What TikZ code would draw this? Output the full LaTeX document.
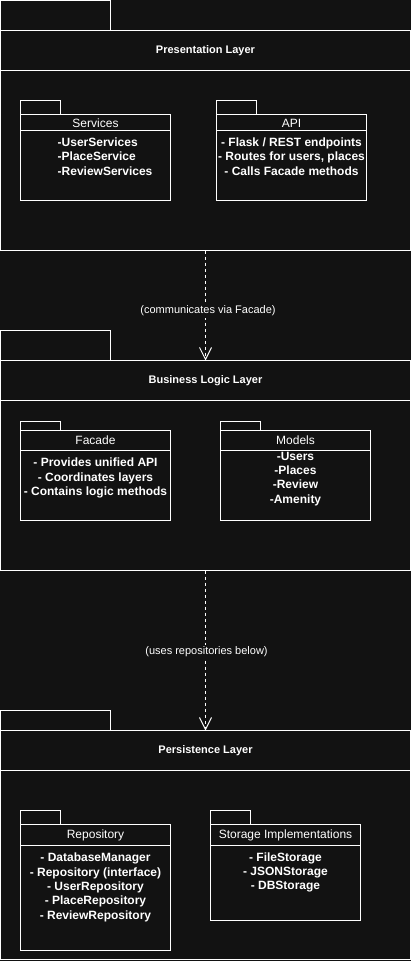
\documentclass[tikz,border=0pt]{standalone}
\usepackage{fontspec}
\setmainfont{Liberation Sans}
\usetikzlibrary{arrows.meta}
\definecolor{bg}{HTML}{121212}
\begin{document}
\begin{tikzpicture}[x=1pt,y=-1pt,
  frame/.style={draw=white, line width=1pt, fill=bg, inner sep=0pt, outer sep=0pt, anchor=north west},
  sepline/.style={draw=white, line width=1pt},
  ltitle/.style={text=white, inner sep=0pt, font=\fontsize{11}{13}\selectfont\bfseries},
  ptitle/.style={text=white, inner sep=0pt, font=\fontsize{12}{14}\selectfont},
  items/.style={text=white, inner sep=0pt, font=\fontsize{12}{14.35}\selectfont\bfseries, align=center},
  elabel/.style={text=white, fill=bg, inner sep=1.5pt, font=\fontsize{11}{13}\selectfont},
  dep/.style={draw=white, line width=1pt, dash pattern=on 3pt off 3pt, -{Straight Barb[length=12pt,width=12pt]}},
]
\fill[bg] (0,0) rectangle (411,961);
\useasboundingbox (0,0) rectangle (411,961);

% ---------- Presentation Layer ----------
\node[frame, minimum width=110pt, minimum height=30pt] (L1tab) at (0.5,0.5) {};
\node[frame, minimum width=410pt, minimum height=220pt] (L1) at (0.5,30.5) {};
\draw[sepline] (0.5,70.5) -- (410.5,70.5);
\node[ltitle] (L1title) at (205.5,50.5) {Presentation Layer};

\node[frame, minimum width=40pt, minimum height=14pt] (Stab) at (20.5,100.5) {};
\node[frame, minimum width=150pt, minimum height=85.5pt] (S) at (20.5,114.5) {};
\draw[sepline] (20.5,130.5) -- (170.5,130.5);
\node[ptitle] (Stitle) at (95.5,123.3) {Services};
\node[items, align=left, anchor=west] (Sitems) at (57.5,156.7) {-UserServices\\-PlaceService\\-ReviewServices};

\node[frame, minimum width=40pt, minimum height=14pt] (Atab) at (216.5,100.5) {};
\node[frame, minimum width=150pt, minimum height=85.5pt] (A) at (216.5,114.5) {};
\draw[sepline] (216.5,130.5) -- (366.5,130.5);
\node[ptitle] (Atitle) at (291.5,123.3) {API};
\node[items] (Aitems) at (291.5,156.7) {- Flask / REST endpoints\\- Routes for users, places\\- Calls Facade methods};

% ---------- Business Logic Layer ----------
\node[frame, minimum width=110pt, minimum height=30pt] (L2tab) at (0.5,330.5) {};
\node[frame, minimum width=410pt, minimum height=210pt] (L2) at (0.5,360.5) {};
\draw[sepline] (0.5,400.5) -- (410.5,400.5);
\node[ltitle] (L2title) at (205.5,380.5) {Business Logic Layer};

\node[frame, minimum width=40pt, minimum height=9pt] (Ftab) at (20.5,421.5) {};
\node[frame, minimum width=150pt, minimum height=90pt] (F) at (20.5,430.5) {};
\draw[sepline] (20.5,450.5) -- (170.5,450.5);
\node[ptitle] (Ftitle) at (95.5,440.7) {Facade};
\node[items] (Fitems) at (95.5,478.2) {- Provides unified API\\- Coordinates layers\\- Contains logic methods};

\node[frame, minimum width=40pt, minimum height=9pt] (Mtab) at (220.5,421.5) {};
\node[frame, minimum width=150pt, minimum height=90pt] (M) at (220.5,430.5) {};
\draw[sepline] (220.5,450.5) -- (370.5,450.5);
\node[ptitle] (Mtitle) at (295.5,440.7) {Models};
\node[items] (Mitems) at (295.5,478.8) {-Users\\-Places\\-Review\\-Amenity};

% ---------- Persistence Layer ----------
\node[frame, minimum width=110pt, minimum height=20pt] (L3tab) at (0.5,710.5) {};
\node[frame, minimum width=410pt, minimum height=229pt] (L3) at (0.5,730.5) {};
\draw[sepline] (0.5,770.5) -- (410.5,770.5);
\node[ltitle] (L3title) at (205.5,750.5) {Persistence Layer};

\node[frame, minimum width=40pt, minimum height=14pt] (Rtab) at (20.5,810.5) {};
\node[frame, minimum width=150pt, minimum height=125.5pt] (R) at (20.5,824.5) {};
\draw[sepline] (20.5,845.5) -- (170.5,845.5);
\node[ptitle] (Rtitle) at (95.5,835.3) {Repository};
\node[items] (Ritems) at (95.5,887.5) {- DatabaseManager\\- Repository (interface)\\- UserRepository\\- PlaceRepository\\- ReviewRepository};

\node[frame, minimum width=40pt, minimum height=14pt] (STtab) at (210.5,810.5) {};
\node[frame, minimum width=150pt, minimum height=95.5pt] (ST) at (210.5,824.5) {};
\draw[sepline] (210.5,845.5) -- (360.5,845.5);
\node[ptitle] (STtitle) at (285.5,835.3) {Storage Implementations};
\node[items] (STitems) at (285.5,872.5) {- FileStorage\\- JSONStorage\\- DBStorage};

% ---------- Connectors ----------
\draw[dep] (L1.south) -- node[elabel, pos=0.55, xshift=2.5pt] (lab1) {(communicates via Facade)} (L2.north);
\draw[dep] (L2.south) -- node[elabel, pos=0.51, xshift=1pt] (lab2) {(uses repositories below)} (L3.north);
\end{tikzpicture}
\end{document}
